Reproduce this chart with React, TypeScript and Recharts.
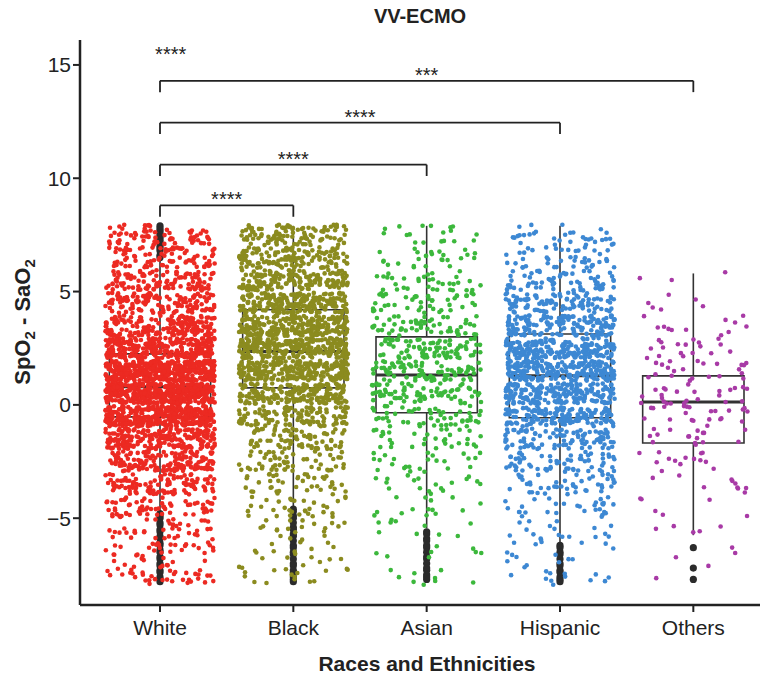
import { ComposedChart, Scatter, XAxis, YAxis, ReferenceArea, ReferenceLine } from 'recharts';

const categories = ['White', 'Black', 'Asian', 'Hispanic', 'Others'];
const colors = ['#ec2a22', '#8b8b1f', '#3cb83c', '#3d88d3', '#a83aa6'];

// lower edge of each 1-unit bin of SpO2 - SaO2
const binLows = [-8, -7, -6, -5, -4, -3, -2, -1, 0, 1, 2, 3, 4, 5, 6, 7];
// approximate number of jittered points per bin
const whiteCounts = [40, 35, 40, 65, 105, 150, 210, 340, 440, 400, 260, 175, 130, 105, 85, 65];
const blackCounts = [18, 16, 20, 32, 40, 55, 75, 115, 190, 240, 250, 240, 200, 160, 130, 105];
const asianCounts = [9, 8, 10, 14, 18, 24, 32, 52, 75, 85, 80, 58, 44, 34, 25, 18];
const hispanicCounts = [14, 14, 18, 30, 45, 65, 95, 145, 190, 205, 190, 150, 100, 65, 46, 32];
const othersCounts = [2, 3, 5, 6, 10, 14, 16, 22, 24, 22, 18, 12, 6, 3, 0, 0];

const q1 = [-0.53, 0.75, -0.35, -0.57, -1.68];
const medians = [0.8, 2.35, 1.32, 1.28, 0.13];
const q3 = [2.25, 4.2, 3.0, 3.13, 1.28];
const whiskerLow = [-4.7, -4.5, -5.45, -6.05, -5.75];
const whiskerHigh = [6.4, 7.9, 7.9, 7.9, 5.8];

const whiteOutliers = [6.5, 6.6, 6.8, 6.9, 7.0, 7.2, 7.3, 7.4, 7.5, 7.6, 7.7, 7.8, 7.9,
  -4.8, -4.9, -5.0, -5.2, -5.3, -5.5, -5.6, -5.8, -5.9, -6.1, -6.2, -6.4, -6.5, -6.7, -6.8, -7.0, -7.1, -7.3, -7.4, -7.6, -7.7, -7.8];
const blackOutliers = [-4.6, -4.7, -4.9, -5.0, -5.2, -5.4, -5.5, -5.7, -5.8, -6.0, -6.2, -6.3, -6.5, -6.6, -6.8, -7.0, -7.1, -7.3, -7.4, -7.6, -7.7, -7.8];
const asianOutliers = [-5.6, -5.7, -5.9, -6.0, -6.2, -6.3, -6.5, -6.7, -6.8, -7.0, -7.2, -7.3, -7.5, -7.6, -7.7];
const hispanicOutliers = [-6.2, -6.3, -6.5, -6.6, -6.8, -7.0, -7.1, -7.3, -7.4, -7.6, -7.7, -7.8];
const othersOutliers = [-6.3, -7.2, -7.7];

const brackets = [
  { from: 0, to: 1, y: 8.8, label: '****' },
  { from: 0, to: 2, y: 10.6, label: '****' },
  { from: 0, to: 3, y: 12.45, label: '****' },
  { from: 0, to: 4, y: 14.3, label: '***' },
];
const extraLabel = { x: 0.08, y: 15.2, label: '****' };

const counts = [whiteCounts, blackCounts, asianCounts, hispanicCounts, othersCounts];
const outliers = [whiteOutliers, blackOutliers, asianOutliers, hispanicOutliers, othersOutliers];

// display jitter only: a fixed hash spreads each bin's points over the band
function hash(n: number) {
  const s = Math.sin(n * 12.9898 + 78.233) * 43758.5453;
  return s - Math.floor(s);
}

function jitter(binCounts: number[], idx: number) {
  const pts: { x: number; y: number }[] = [];
  let k = idx * 10000;
  binCounts.forEach((n, b) => {
    for (let i = 0; i < n; i++) {
      k++;
      pts.push({ x: idx + (hash(k) - 0.5) * 0.82, y: binLows[b] + 0.05 + hash(k + 0.5) * 0.9 });
    }
  });
  return pts;
}

const font = '"Liberation Sans", Arial, sans-serif';
const ink = '#222';
const boxInk = '#333';
const HALF = 0.38;

const annotations = [
  ...brackets.map((b) => ({ x: (b.from + b.to) / 2, y: b.y, label: b.label })),
  extraLabel,
];

export default function App() {
  return (
    <div style={{ position: 'absolute', left: 0, top: 0, width: 762, height: 679, fontFamily: font }}>
      <div style={{ position: 'absolute', left: 0, width: 840, top: 5, textAlign: 'center', fontWeight: 'bold', fontSize: 20, color: ink }}>
        VV-ECMO
      </div>
      <div
        style={{
          position: 'absolute', left: 24, top: 322, transform: 'translate(-50%, -50%) rotate(-90deg)',
          whiteSpace: 'nowrap', fontWeight: 'bold', fontSize: 22, color: ink,
        }}
      >
        SpO<sub style={{ fontSize: 15 }}>2</sub> - SaO<sub style={{ fontSize: 15 }}>2</sub>
      </div>
      <div style={{ position: 'absolute', left: 0, width: 854, top: 652, textAlign: 'center', fontWeight: 'bold', fontSize: 21, color: ink }}>
        Races and Ethnicities
      </div>
      <ComposedChart width={762} height={679} margin={{ top: 40, right: 2, bottom: 0, left: 0 }}>
        <XAxis
          type="number"
          dataKey="x"
          domain={[-0.6, 4.5]}
          ticks={[0, 1, 2, 3, 4]}
          tickFormatter={(i: number) => categories[i]}
          allowDataOverflow
          height={74}
          axisLine={{ stroke: ink, strokeWidth: 2.5 }}
          tickLine={{ stroke: ink, strokeWidth: 2 }}
          tickSize={7}
          tick={{ fill: ink, fontSize: 21, fontFamily: font, dy: 6 }}
        />
        <YAxis
          type="number"
          dataKey="y"
          domain={[-8.83, 16.1]}
          ticks={[-5, 0, 5, 10, 15]}
          tickFormatter={(v: number) => (v < 0 ? '\u2212' + Math.abs(v) : String(v))}
          allowDataOverflow
          width={80}
          axisLine={{ stroke: ink, strokeWidth: 2.5 }}
          tickLine={{ stroke: ink, strokeWidth: 2 }}
          tickSize={7}
          tick={{ fill: ink, fontSize: 21, fontFamily: font }}
        />
        {categories.map((c, i) => (
          <ReferenceLine key={'wl' + c} segment={[{ x: i, y: whiskerLow[i] }, { x: i, y: q1[i] }]} stroke={boxInk} strokeWidth={1.6} />
        ))}
        {categories.map((c, i) => (
          <ReferenceLine key={'wh' + c} segment={[{ x: i, y: q3[i] }, { x: i, y: whiskerHigh[i] }]} stroke={boxInk} strokeWidth={1.6} />
        ))}
        {categories.map((c, i) => (
          <ReferenceArea key={'box' + c} x1={i - HALF} x2={i + HALF} y1={q1[i]} y2={q3[i]} fill="none" fillOpacity={0} stroke={boxInk} strokeWidth={1.6} />
        ))}
        {categories.map((c, i) => (
          <ReferenceLine key={'md' + c} segment={[{ x: i - HALF, y: medians[i] }, { x: i + HALF, y: medians[i] }]} stroke={boxInk} strokeWidth={3} />
        ))}
        {brackets.map((b, i) => (
          <ReferenceLine key={'bh' + i} segment={[{ x: b.from, y: b.y }, { x: b.to, y: b.y }]} stroke={ink} strokeWidth={1.8} />
        ))}
        {brackets.map((b, i) => (
          <ReferenceLine key={'bl' + i} segment={[{ x: b.from, y: b.y }, { x: b.from, y: b.y - 0.5 }]} stroke={ink} strokeWidth={1.8} />
        ))}
        {brackets.map((b, i) => (
          <ReferenceLine key={'br' + i} segment={[{ x: b.to, y: b.y }, { x: b.to, y: b.y - 0.5 }]} stroke={ink} strokeWidth={1.8} />
        ))}
        {categories.map((c, i) => (
          <Scatter
            key={'out' + c}
            data={outliers[i].map((v) => ({ x: i, y: v }))}
            fill="#2b2b2b"
            isAnimationActive={false}
            shape={(p: any) => <circle cx={p.cx} cy={p.cy} r={3.6} fill="#2b2b2b" />}
          />
        ))}
        {categories.map((c, i) => (
          <Scatter
            key={'pts' + c}
            data={jitter(counts[i], i)}
            fill={colors[i]}
            isAnimationActive={false}
            shape={(p: any) => <circle cx={p.cx} cy={p.cy} r={2.3} fill={colors[i]} />}
          />
        ))}
        <Scatter
          data={annotations}
          isAnimationActive={false}
          shape={(p: any) => (
            <text x={p.cx} y={p.cy + 1} textAnchor="middle" fontSize={20} fontFamily={font} fill={ink}>
              {p.payload.label}
            </text>
          )}
        />
      </ComposedChart>
    </div>
  );
}
